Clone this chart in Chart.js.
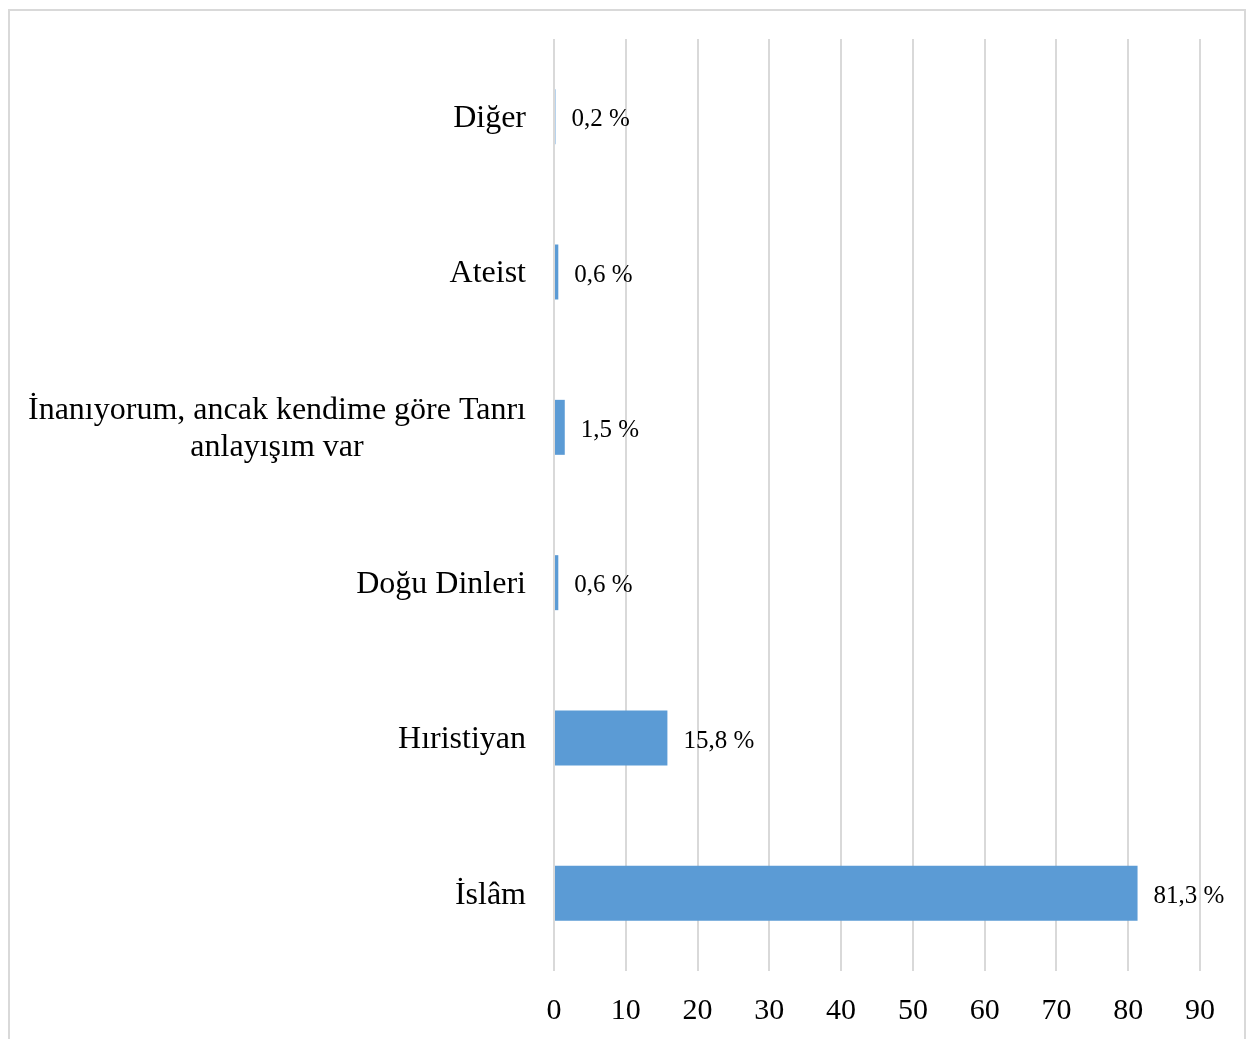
<!DOCTYPE html>
<html><head><meta charset="utf-8">
<script src="https://cdn.jsdelivr.net/npm/chart.js@4/dist/chart.umd.min.js"></script>
<style>
html,body{margin:0;padding:0;background:#fff;}
#wrap{position:relative;width:1249px;height:1039px;}
#frame{position:absolute;left:8px;top:9px;width:1238px;height:1040px;border:2px solid #d9d9d9;box-sizing:border-box;}
canvas{position:absolute;left:0;top:0;}
</style></head>
<body><div id="wrap"><div id="frame"></div><canvas id="c" width="1249" height="1039"></canvas></div>
<script>
const categories = ["Diğer", "Ateist", ["İnanıyorum, ancak kendime göre Tanrı", "anlayışım var"], "Doğu Dinleri", "Hıristiyan", "İslâm"];
const values = [0.2, 0.6, 1.5, 0.6, 15.8, 81.3];
const xTicks = [0, 10, 20, 30, 40, 50, 60, 70, 80, 90];
const FONT = "'Liberation Serif', 'Times New Roman', serif";

const yLabelPlugin = {
  id: 'yLabels',
  afterDraw(chart) {
    const ctx = chart.ctx, y = chart.scales.y;
    ctx.save();
    ctx.font = "32px " + FONT;
    ctx.fillStyle = '#000';
    ctx.textBaseline = 'middle';
    const right = 526, lh = 37;
    categories.forEach((lab, i) => {
      const lines = Array.isArray(lab) ? lab : [lab];
      const py = y.getPixelForTick(i) + 2;
      const w = Math.max(...lines.map(l => ctx.measureText(l).width));
      const cx = right - w / 2;
      lines.forEach((l, k) => {
        const ly = py + (k - (lines.length - 1) / 2) * lh;
        ctx.textAlign = 'center';
        ctx.fillText(l, cx, ly);
      });
    });
    ctx.restore();
  }
};
const dataLabelPlugin = {
  id: 'dataLabels',
  afterDatasetsDraw(chart) {
    const ctx = chart.ctx;
    const meta = chart.getDatasetMeta(0);
    ctx.save();
    ctx.font = "25px " + FONT;
    ctx.fillStyle = '#000';
    ctx.textAlign = 'left';
    ctx.textBaseline = 'middle';
    meta.data.forEach((bar, i) => {
      const txt = values[i].toFixed(1).replace('.', ',') + ' %';
      ctx.fillText(txt, bar.x + 16, bar.y + 3);
    });
    ctx.restore();
  }
};

new Chart(document.getElementById('c'), {
  type: 'bar',
  data: {
    labels: categories,
    datasets: [{
      data: values,
      backgroundColor: '#5B9BD5',
      borderWidth: 0,
      barPercentage: 0.354,
      categoryPercentage: 1.0
    }]
  },
  options: {
    indexAxis: 'y',
    responsive: false,
    animation: false,
    devicePixelRatio: 1,
    layout: { padding: { left: 0, right: 49, top: 39, bottom: 0 } },
    plugins: { legend: { display: false }, tooltip: { enabled: false } },
    scales: {
      x: {
        min: 0, max: 90,
        afterBuildTicks(scale) { scale.ticks = xTicks.map(v => ({ value: v })); },
        afterFit(scale) { scale.height = 68; },
        grid: { color: '#d9d9d9', lineWidth: 2, drawTicks: false },
        border: { display: false },
        ticks: { font: { family: FONT, size: 30 }, color: '#000', padding: 22 }
      },
      y: {
        afterFit(scale) { scale.width = 554; },
        grid: { display: false },
        border: { display: false },
        ticks: { display: false }
      }
    }
  },
  plugins: [yLabelPlugin, dataLabelPlugin]
});
</script></body></html>
